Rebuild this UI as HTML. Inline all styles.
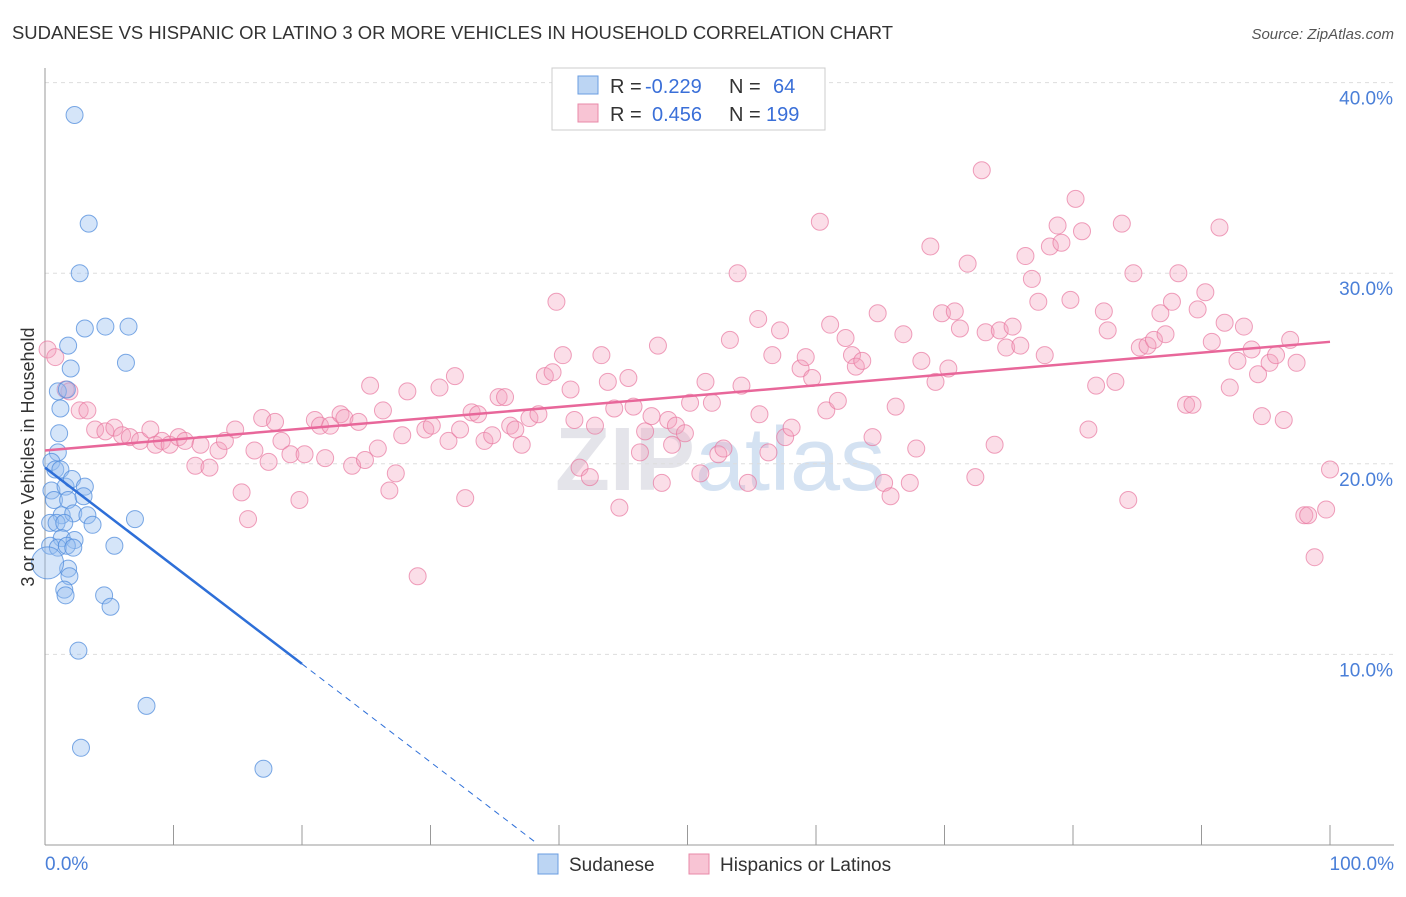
<!DOCTYPE html>
<html><head><meta charset="utf-8"><style>
body{margin:0;background:#fff;font-family:"Liberation Sans",sans-serif}
svg text{font-family:"Liberation Sans",sans-serif}
</style></head><body>
<svg width="1406" height="892" xmlns="http://www.w3.org/2000/svg">
<text x="12" y="39" font-size="18" fill="#333" textLength="881" lengthAdjust="spacingAndGlyphs">SUDANESE VS HISPANIC OR LATINO 3 OR MORE VEHICLES IN HOUSEHOLD CORRELATION CHART</text>
<text x="1394" y="39" font-size="15" fill="#555" text-anchor="end" font-style="italic">Source: ZipAtlas.com</text>
<text x="720" y="490" font-size="90" fill="#e4e4ea" text-anchor="middle" font-family="Liberation Serif" font-weight="bold">ZIP<tspan fill="#d4e2f2" font-family="Liberation Sans" font-weight="normal">atlas</tspan></text>
<g id="grid"></g>
<g id="axes"></g>
<g id="pts"></g>
<g id="lines"></g>
<text transform="translate(34,457) rotate(-90)" font-size="18" fill="#333" text-anchor="middle">3 or more Vehicles in Household</text>
<g>
<rect x="552" y="68" width="273" height="62" fill="#fff" stroke="#ccc"/>
<rect x="578" y="76" width="20" height="18" fill="#bcd5f3" stroke="#6a9de0"/>
<rect x="578" y="104" width="20" height="18" fill="#f8c4d4" stroke="#e88aa8"/>
<text y="93" font-size="20" fill="#333"><tspan x="610">R =</tspan><tspan x="645" fill="#3a6fd8">-0.229</tspan><tspan x="729">N =</tspan><tspan x="773" fill="#3a6fd8">64</tspan></text>
<text y="121" font-size="20" fill="#333"><tspan x="610">R =</tspan><tspan x="652" fill="#3a6fd8">0.456</tspan><tspan x="729">N =</tspan><tspan x="766" fill="#3a6fd8">199</tspan></text>
</g>
<g>
<rect x="538" y="854" width="20" height="20" fill="#bcd5f3" stroke="#6a9de0"/>
<text x="569" y="871" font-size="19" fill="#333">Sudanese</text>
<rect x="689" y="854" width="20" height="20" fill="#f8c4d4" stroke="#e88aa8"/>
<text x="720" y="871" font-size="19" fill="#333">Hispanics or Latinos</text>
</g>
</svg>
<script>
const blueX=[2.3,3.4,2.7,1.8,3.1,4.7,6.5,6.3,2.0,1.0,1.7,1.2,1.1,1.0,0.5,0.8,1.2,0.5,1.6,2.1,3.1,0.7,1.8,3.0,1.3,2.2,3.3,0.4,0.9,1.5,7.0,3.7,1.3,2.3,0.4,1.0,1.7,2.2,5.4,1.8,1.9,1.5,1.6,4.6,5.1,2.6,7.9,2.8,17.0,0.2];
const blueY=[38.3,32.6,30.0,26.2,27.1,27.2,27.2,25.3,25.0,23.8,23.9,22.9,21.6,20.6,20.1,19.7,19.7,18.6,18.8,19.2,18.8,18.1,18.1,18.3,17.3,17.4,17.3,16.9,16.9,16.9,17.1,16.8,16.1,16.0,15.7,15.6,15.7,15.6,15.7,14.5,14.1,13.4,13.1,13.1,12.5,10.2,7.3,5.1,4.0,14.8];
const pinkX=[0.2,0.8,1.6,1.9,2.7,3.3,3.9,4.7,5.4,6.0,6.6,7.4,8.2,8.6,9.1,9.7,10.4,10.9,11.7,12.1,12.8,13.5,14.0,14.8,15.3,15.8,16.3,16.9,17.4,17.9,18.4,19.1,19.8,20.2,21.0,21.4,21.8,22.2,23.0,23.3,23.9,24.4,24.9,25.3,25.9,26.3,26.8,27.3,27.8,28.2,29.0,29.6,30.1,30.7,31.4,31.9,32.3,32.7,33.2,33.7,34.2,34.8,35.3,35.8,36.2,36.6,37.1,37.7,38.4,38.9,39.5,39.8,40.3,40.9,41.2,41.6,42.4,42.8,43.3,43.8,44.3,44.7,45.4,45.8,46.3,46.7,47.2,47.7,48.0,48.5,48.8,49.1,49.8,50.2,51.0,51.4,51.9,52.4,52.8,53.3,53.9,54.2,54.7,55.5,55.6,56.3,56.6,57.2,57.6,58.1,58.8,59.2,59.7,60.3,60.8,61.1,61.7,62.3,62.8,63.1,63.6,64.4,64.8,65.3,65.8,66.2,66.8,67.3,67.8,68.2,68.9,69.3,69.8,70.3,70.8,71.2,71.8,72.4,72.9,73.2,73.9,74.3,74.8,75.3,75.9,76.3,76.8,77.3,77.8,78.2,78.8,79.1,79.8,80.2,80.7,81.2,81.8,82.4,82.7,83.3,83.8,84.3,84.7,85.2,85.8,86.3,86.8,87.2,87.7,88.2,88.8,89.3,89.7,90.3,90.8,91.4,91.8,92.2,92.8,93.3,93.9,94.4,94.7,95.3,95.8,96.4,96.9,97.4,98.0,98.3,98.8,99.7,100];
const pinkY=[26.0,25.6,23.9,23.8,22.8,22.8,21.8,21.7,21.9,21.5,21.4,21.2,21.8,21.0,21.2,21.0,21.4,21.2,19.9,21.0,19.8,20.7,21.2,21.8,18.5,17.1,20.7,22.4,20.1,22.2,21.2,20.5,18.1,20.5,22.3,22.0,20.3,22.0,22.6,22.4,19.9,22.2,20.2,24.1,20.8,22.8,18.6,19.5,21.5,23.8,14.1,21.8,22.0,24.0,21.2,24.6,21.8,18.2,22.7,22.6,21.2,21.5,23.5,23.5,22.0,21.8,21.0,22.4,22.6,24.6,24.8,28.5,25.7,23.9,22.3,19.8,19.3,22.0,25.7,24.3,22.9,17.7,24.5,23.0,20.6,21.7,22.5,26.2,19.0,22.3,21.0,22.0,21.6,23.2,19.5,24.3,23.2,20.5,20.8,26.5,30.0,24.1,19.0,27.6,22.6,20.6,25.7,27.0,21.4,21.9,25.0,25.6,24.5,32.7,22.8,27.3,23.3,26.6,25.7,25.1,25.4,21.4,27.9,19.0,18.3,23.0,26.8,19.0,20.8,25.4,31.4,24.3,27.9,25.0,28.0,27.1,30.5,19.3,35.4,26.9,21.0,27.0,26.1,27.2,26.2,30.9,29.7,28.5,25.7,31.4,32.5,31.6,28.6,33.9,32.2,21.8,24.1,28.0,27.0,24.3,32.6,18.1,30.0,26.1,26.2,26.5,27.9,26.8,28.5,30.0,23.1,23.1,28.1,29.0,26.4,32.4,27.4,24.0,25.4,27.2,26.0,24.7,22.5,25.3,25.7,22.3,26.5,25.3,17.3,17.3,15.1,17.6,19.7];
const yTicks=[10,20,30,40];
const yTickLabels=["10.0%","20.0%","30.0%","40.0%"];
const xTickLabels=["0.0%","100.0%"];
const pinkFit=[20.7,26.4];
const blueFit=[19.8,9.5];
const blueFitEndX=20, blueDashEndX=38.1;

const X=v=>45+v*12.85, Y=v=>845-v*19.06;
const NS="http://www.w3.org/2000/svg";
function mk(t,a,p){const e=document.createElementNS(NS,t);for(const k in a)e.setAttribute(k,a[k]);p.appendChild(e);return e;}
const grid=document.getElementById('grid'),axes=document.getElementById('axes'),pts=document.getElementById('pts'),lines=document.getElementById('lines');
yTicks.forEach((t,i)=>{
  const l=mk('line',{x1:45,x2:1394,y1:Y(t),y2:Y(t),stroke:'#ddd','stroke-dasharray':'4,4'},grid);
  
  
  const tx=mk('text',{x:1393,y:Y(t)+22,'font-size':19,fill:'#4a7fd8','text-anchor':'end'},axes);
  tx.textContent=yTickLabels[i];
  
  
});
const ax=mk('line',{x1:45,x2:45,y1:68,y2:845,stroke:'#999'},axes);


const bx=mk('line',{x1:45,x2:1394,y1:845,y2:845,stroke:'#999'},axes);


for(let i=1;i<=10;i++){
  const t=mk('line',{x1:X(i*10),x2:X(i*10),y1:825,y2:845,stroke:'#999'},axes);
  
  
}
[[0,'start',45],[100,'end',1394]].forEach((d,i)=>{
  const t=mk('text',{x:d[2],y:870,'font-size':19,fill:'#4a7fd8','text-anchor':d[1]},axes);
  t.textContent=xTickLabels[i];
  
  
});
pinkX.forEach((x,i)=>{
  const c=mk('circle',{cx:X(x),cy:Y(pinkY[i]),r:8.5,fill:'rgba(244,160,188,0.35)',stroke:'rgba(232,120,160,0.7)','stroke-width':1},pts);
  
  
});
blueX.forEach((x,i)=>{
  const c=mk('circle',{cx:X(x),cy:Y(blueY[i]),r:i==blueX.length-1?16:8.5,fill:'rgba(150,190,240,0.4)',stroke:'rgba(80,140,220,0.75)','stroke-width':1},pts);
  
  
});
const pl=mk('line',{x1:X(0),y1:Y(pinkFit[0]),x2:X(100),y2:Y(pinkFit[1]),stroke:'#e8679a','stroke-width':2.5},lines);


const slope=(blueFit[1]-blueFit[0])/blueFitEndX;
const bl=mk('line',{x1:X(0),y1:Y(blueFit[0]),x2:X(blueFitEndX),y2:Y(blueFit[1]),stroke:'#2e6fd8','stroke-width':2.5},lines);


const bd=mk('line',{x1:X(blueFitEndX),y1:Y(blueFit[1]),x2:X(blueDashEndX),y2:Y(Math.max(0,blueFit[0]+slope*blueDashEndX)),stroke:'#2e6fd8','stroke-width':1,'stroke-dasharray':'6,5'},lines);


</script>
</body></html>
